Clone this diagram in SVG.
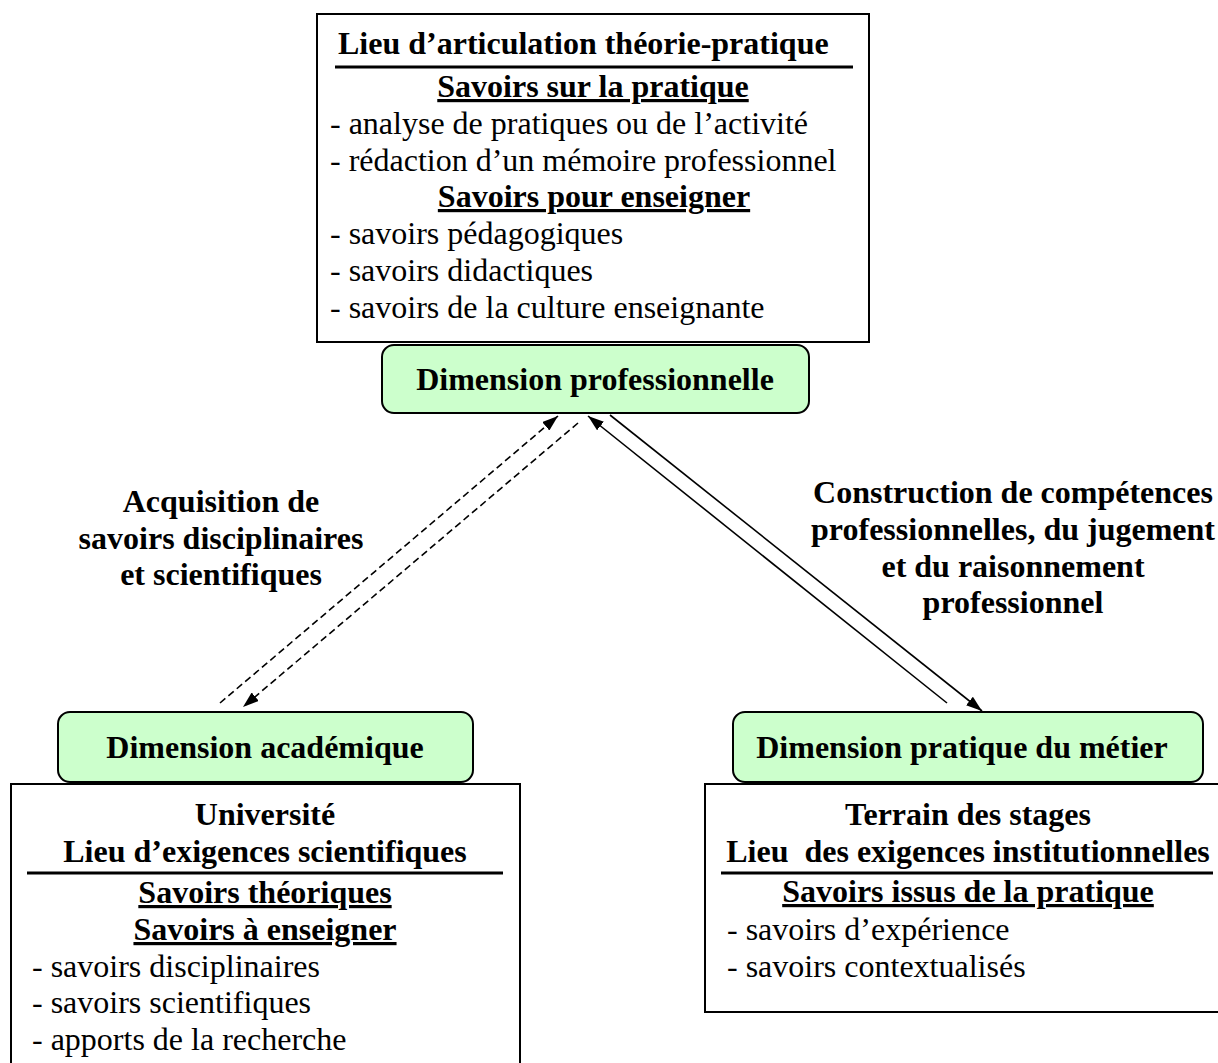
<svg xmlns="http://www.w3.org/2000/svg" width="1218" height="1063" viewBox="0 0 1218 1063">
<style>
  .t { font-family: "Liberation Serif", "Times New Roman", serif; font-size: 32px; fill: #000; }
  .b { font-weight: bold; }
  .c { text-anchor: middle; }
  .u { text-decoration: underline; }
  .box { fill: #fff; stroke: #000; stroke-width: 2; }
  .dim { fill: #ccffcc; stroke: #000; stroke-width: 2; }
  .rule { stroke: #000; stroke-width: 3; }
  .solid { stroke: #000; stroke-width: 1.6; fill: none; }
  .dash { stroke: #000; stroke-width: 1.6; fill: none; stroke-dasharray: 7 4; }
</style>
<defs>
  <marker id="arr" viewBox="0 0 16 11" refX="16" refY="5.5" markerWidth="16" markerHeight="11" markerUnits="userSpaceOnUse" orient="auto">
    <path d="M0,0 L16,5.5 L0,11 z" fill="#000"/>
  </marker>
</defs>
<rect width="1218" height="1063" fill="#fff"/>

<g id="lieu-articulation">
  <rect class="box" x="317" y="14" width="552" height="328"/>
  <text class="t b" x="338" y="54">Lieu d’articulation théorie-pratique</text>
  <line class="rule" x1="335" y1="67" x2="853" y2="67"/>
  <text class="t b c u" x="593" y="97">Savoirs sur la pratique</text>
  <text class="t" x="330" y="134">- analyse de pratiques ou de l’activité</text>
  <text class="t" x="330" y="171">- rédaction d’un mémoire professionnel</text>
  <text class="t b c u" x="594" y="207">Savoirs pour enseigner</text>
  <text class="t" x="330" y="244">- savoirs pédagogiques</text>
  <text class="t" x="330" y="281">- savoirs didactiques</text>
  <text class="t" x="330" y="318">- savoirs de la culture enseignante</text>
</g>

<g id="dim-professionnelle">
  <rect class="dim" x="382" y="345" width="427" height="68" rx="12" ry="12"/>
  <text class="t b c" x="595" y="390">Dimension professionnelle</text>
</g>

<g id="dim-academique">
  <rect class="dim" x="58" y="712" width="415" height="70" rx="12" ry="12"/>
  <text class="t b c" x="265" y="758">Dimension académique</text>
</g>

<g id="universite">
  <rect class="box" x="11" y="784" width="509" height="300"/>
  <text class="t b c" x="265" y="825">Université</text>
  <text class="t b c" x="265" y="862">Lieu d’exigences scientifiques</text>
  <line class="rule" x1="27" y1="873" x2="503" y2="873"/>
  <text class="t b c u" x="265" y="903">Savoirs théoriques</text>
  <text class="t b c u" x="265" y="940">Savoirs à enseigner</text>
  <text class="t" x="32" y="977">- savoirs disciplinaires</text>
  <text class="t" x="32" y="1013">- savoirs scientifiques</text>
  <text class="t" x="32" y="1050">- apports de la recherche</text>
</g>

<g id="dim-pratique">
  <rect class="dim" x="733" y="712" width="470" height="70" rx="12" ry="12"/>
  <text class="t b c" x="962" y="758">Dimension pratique du métier</text>
</g>

<g id="terrain-stages">
  <rect class="box" x="705" y="784" width="530" height="228"/>
  <text class="t b c" x="968" y="825">Terrain des stages</text>
  <text class="t b c" x="968" y="862" xml:space="preserve">Lieu  des exigences institutionnelles</text>
  <line class="rule" x1="721" y1="873" x2="1213" y2="873"/>
  <text class="t b c u" x="968" y="902">Savoirs issus de la pratique</text>
  <text class="t" x="727" y="940">- savoirs d’expérience</text>
  <text class="t" x="727" y="977">- savoirs contextualisés</text>
</g>

<g id="connectors">
  <line class="dash" x1="220" y1="703" x2="558" y2="416" marker-end="url(#arr)"/>
  <line class="dash" x1="578" y1="423" x2="243" y2="707" marker-end="url(#arr)"/>
  <line class="solid" x1="947" y1="703" x2="588" y2="416" marker-end="url(#arr)"/>
  <line class="solid" x1="610" y1="415" x2="982" y2="711" marker-end="url(#arr)"/>
</g>

<g id="label-acquisition">
  <text class="t b c" x="221" y="512">Acquisition de</text>
  <text class="t b c" x="221" y="549">savoirs disciplinaires</text>
  <text class="t b c" x="221" y="585">et scientifiques</text>
</g>

<g id="label-construction">
  <text class="t b c" x="1013" y="503">Construction de compétences</text>
  <text class="t b c" x="1013" y="540">professionnelles, du jugement</text>
  <text class="t b c" x="1013" y="577">et du raisonnement</text>
  <text class="t b c" x="1013" y="613">professionnel</text>
</g>
</svg>
